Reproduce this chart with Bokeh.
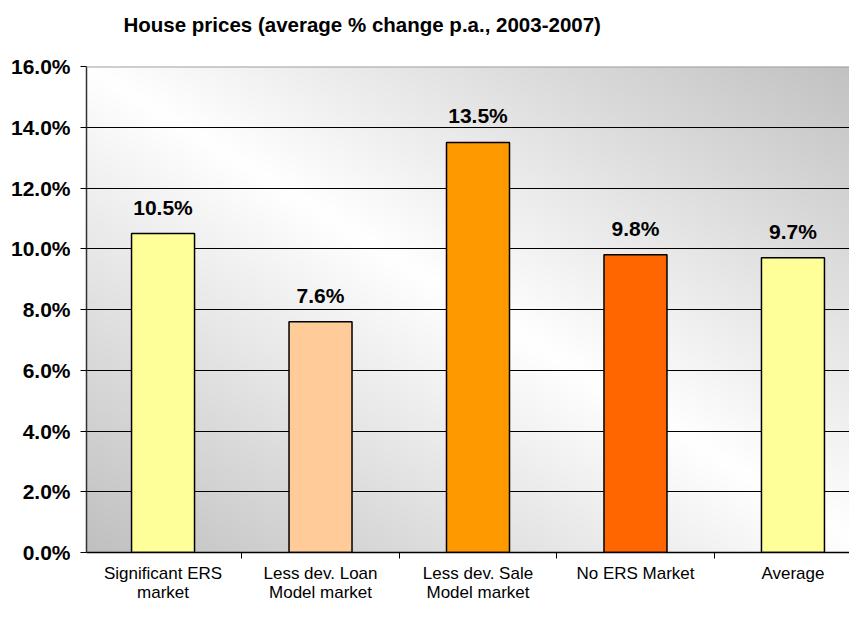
import numpy as np
from bokeh.plotting import figure
from bokeh.models import (Range1d, FixedTicker, PrintfTickFormatter, Span,
                          ColumnDataSource, LabelSet, Title)
from bokeh.embed import file_html
from bokeh.resources import INLINE
from bokeh.core.properties import value

# ---- data ----
categories = ["Significant ERS\nmarket", "Less dev. Loan\nModel market",
              "Less dev. Sale\nModel market", "No ERS Market", "Average"]
values = [10.5, 7.6, 13.5, 9.8, 9.7]          # average % change p.a.
bar_colors = ["#FFFF99", "#FFCC99", "#FF9900", "#FF6600", "#FFFF99"]
y_ticks = [0, 2, 4, 6, 8, 10, 12, 14, 16]
title_text = "House prices (average % change p.a., 2003-2007)"

FONT = "Liberation Sans"

x = list(range(len(categories)))
labels = [f"{v:.1f}%" for v in values]
src = ColumnDataSource(dict(x=x, top=values, color=bar_colors, label=labels))

x_start, x_end = -0.486, 4.359
p = figure(width=849, height=605, output_backend="svg", toolbar_location=None,
           x_range=Range1d(x_start, x_end), y_range=Range1d(y_ticks[0], y_ticks[-1]),
           min_border_left=86, min_border_right=0, min_border_top=66,
           min_border_bottom=30)
p.background_fill_color = "white"
p.border_fill_color = "white"
p.outline_line_color = None

# ---- diagonal gradient background of the plot area ----
n = 256
u = np.linspace(0, 1, n)
U, V = np.meshgrid(u, u)
d = np.abs(U - (1 - V))
g = (255 - 63 * d).astype(np.uint8)
img = np.empty((n, n), dtype=np.uint32)
view = img.view(dtype=np.uint8).reshape((n, n, 4))
view[..., 0] = g
view[..., 1] = g
view[..., 2] = g
view[..., 3] = 255
bg = p.image_rgba(image=[img], x=x_start, y=0, dw=4.984, dh=16)
bg.level = "image"

# ---- grid ----
p.xgrid.visible = False
p.ygrid.ticker = FixedTicker(ticks=y_ticks[:-1])
p.ygrid.grid_line_color = "black"
p.ygrid.grid_line_width = 1
p.add_layout(Span(location=y_ticks[-1], dimension="width",
                  line_color="#A0A0A0", line_width=2))

# ---- bars ----
p.vbar(x="x", top="top", bottom=0, width=0.4, fill_color="color",
       line_color="black", line_width=1.5, source=src)

p.add_layout(LabelSet(x="x", y="top", text="label", source=src,
                      text_align="center", text_baseline="alphabetic",
                      y_offset=19, text_font=value(FONT),
                      text_font_size="21px", text_font_style="bold",
                      text_color="black"))

# ---- axes ----
ya = p.yaxis[0]
ya.ticker = FixedTicker(ticks=y_ticks)
ya.formatter = PrintfTickFormatter(format="%.1f%%")
ya.major_label_text_font = FONT
ya.major_label_text_font_size = "21px"
ya.major_label_text_font_style = "bold"
ya.major_label_text_color = "black"
ya.major_tick_out = 6
ya.major_tick_in = 0
ya.major_tick_line_color = "black"
ya.minor_tick_line_color = None
ya.axis_line_color = "#333333"
ya.axis_line_width = 1.5
ya.major_label_standoff = 10

xa = p.xaxis[0]
xa.ticker = FixedTicker(ticks=x, minor_ticks=[i - 0.5 for i in x] + [len(x) - 0.5])
xa.major_label_overrides = {i: c for i, c in zip(x, categories)}
xa.major_tick_line_color = None
xa.major_tick_out = 0
xa.major_tick_in = 0
xa.minor_tick_out = 6
xa.minor_tick_in = 0
xa.minor_tick_line_color = "black"
xa.axis_line_color = "black"
xa.axis_line_width = 1.5
xa.major_label_text_font = FONT
xa.major_label_text_font_size = "17px"
xa.major_label_text_color = "black"
xa.major_label_text_line_height = 1.05
xa.major_label_standoff = 5

# ---- title: a blank spacer next to the plot area, then the title ----
p.add_layout(Title(text=" ", text_font_size="10px", standoff=13), "above")
p.add_layout(Title(text=title_text, text_font=FONT, text_font_size="20.5px",
                   text_font_style="bold", text_color="black",
                   align="left", offset=37, standoff=10), "above")

open("out.html", "w").write(file_html(p, INLINE))
